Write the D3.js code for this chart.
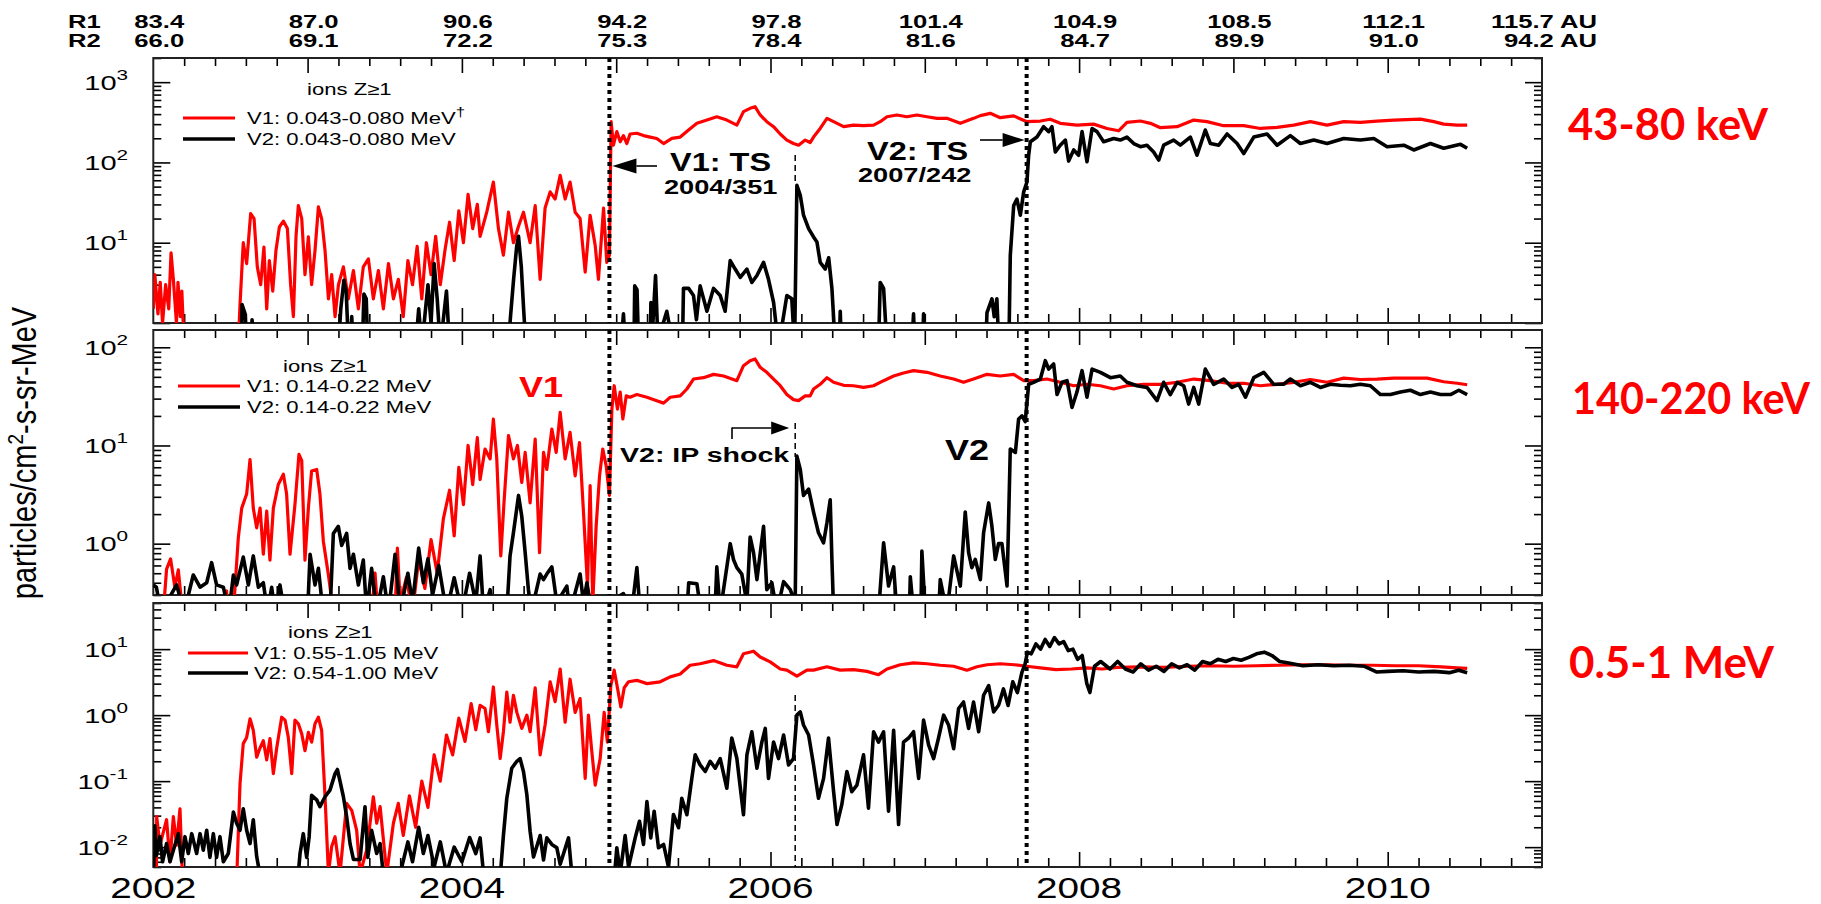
<!DOCTYPE html>
<html>
<head>
<meta charset="utf-8">
<script src="https://cdn.jsdelivr.net/npm/d3@7"></script>
<style>
  html, body { margin: 0; padding: 0; background: #fff; }
  svg { display: block; }
</style>
</head>
<body>
<svg id="chart" width="1821" height="904"></svg>
<script>
// ---------- data ----------
const yearLabels = [2002, 2004, 2006, 2008, 2010];
const r1Labels = ["83.4", "87.0", "90.6", "94.2", "97.8", "101.4", "104.9", "108.5", "112.1", "115.7 AU"];
const r2Labels = ["66.0", "69.1", "72.2", "75.3", "78.4", "81.6", "84.7", "89.9", "91.0", "94.2 AU"];
const v1TermShock = 2004.956;   // 2004/351
const v2TermShock = 2007.660;   // 2007/242
const v2IPShock = 2006.16;

// 43-80 keV channel, [year, intensity]
const v1Ch1 = [[2002.00,1.5],[2002.01,4],[2002.03,1.3],[2002.045,3.2],[2002.06,1.0],[2002.08,3.0],[2002.10,1.5],[2002.115,7.5],[2002.13,3.5],[2002.15,1.0],[2002.16,3.2],[2002.175,1.2],[2002.185,2.5],[2002.2,0.5],[2002.55,0.5],
[2002.562,1.7],[2002.583,10],[2002.605,5.5],[2002.631,23],[2002.653,20],[2002.674,5],[2002.696,3],[2002.717,8.8],[2002.735,1.5],[2002.752,6],[2002.774,2.5],[2002.795,8],[2002.817,15.7],[2002.843,18.6],[2002.869,15],[2002.89,3],[2002.908,1.2],[2002.925,12],[2002.94,29],[2002.962,20],[2002.983,4],[2003.005,11.8],[2003.026,3],[2003.048,8],[2003.07,28],[2003.091,20],[2003.113,8],[2003.135,2],[2003.156,4],[2003.178,1.2],[2003.2,3],[2003.232,5],[2003.264,2],[2003.297,4.5],[2003.329,1.5],[2003.361,5],[2003.394,6.3],[2003.426,2],[2003.459,4.5],[2003.491,1.5],[2003.524,5.5],[2003.556,2],[2003.588,3.5],
[2003.62,1.2],[2003.65,6],[2003.68,3],[2003.71,9],[2003.74,2],[2003.77,10],[2003.80,4],[2003.83,12],[2003.86,3],[2003.89,8],[2003.92,18],[2003.95,6],[2003.98,25],[2004.01,10],[2004.04,40],[2004.07,15],[2004.10,30],
[2004.118,12],[2004.161,24],[2004.204,57],[2004.237,15],[2004.269,7],[2004.302,24],[2004.334,10],[2004.367,16],[2004.399,24],[2004.442,10],[2004.475,29],[2004.507,3.5],[2004.539,27],[2004.572,43],[2004.604,35],[2004.637,69],[2004.669,35],[2004.701,57],[2004.734,24],[2004.766,20],[2004.799,4.3],[2004.831,22],[2004.864,9.2],[2004.885,3.5],[2004.918,27],[2004.939,5.7],[2004.956,7],
[2004.967,322],[2004.982,164],[2005.004,242],[2005.026,181],[2005.047,216],[2005.069,172],[2005.09,226],[2005.134,231],[2005.177,216],[2005.22,207],[2005.263,199],[2005.307,172],[2005.361,199],[2005.415,207],[2005.469,253],[2005.523,307],[2005.588,337],[2005.652,371],[2005.717,337],[2005.782,292],[2005.825,430],[2005.868,472],[2005.9,495],[2005.933,390],[2005.976,322],[2006.02,279],[2006.063,226],[2006.106,190],[2006.149,172],[2006.182,164],[2006.225,190],[2006.257,177],[2006.279,207],[2006.322,265],[2006.366,354],[2006.409,322],[2006.474,279],[2006.538,292],[2006.603,287],[2006.668,292],[2006.711,322],[2006.755,371],[2006.819,390],[2006.884,371],[2006.949,390],[2007.014,371],[2007.079,354],[2007.143,354],[2007.23,307],[2007.316,354],[2007.36,383],[2007.424,409],[2007.489,361],[2007.576,380],[2007.662,322],[2007.749,328],[2007.813,345],[2007.878,307],[2007.986,292],[2008.094,300],[2008.181,265],[2008.256,248],[2008.31,316],[2008.397,328],[2008.462,307],[2008.527,271],[2008.635,279],[2008.743,337],[2008.829,322],[2008.937,287],[2009.067,287],[2009.175,265],[2009.283,274],[2009.391,292],[2009.499,322],[2009.607,292],[2009.715,322],[2009.823,316],[2009.931,328],[2010.039,337],[2010.212,347],[2010.299,322],[2010.363,300],[2010.45,292],[2010.515,292]];

const v2Ch1 = [[2002.0,0.5],[2002.57,0.5],[2002.575,1.7],[2002.595,1.3],[2002.605,0.5],[2002.635,0.5],[2002.64,1.1],[2002.65,0.5],
[2003.20,0.5],[2003.215,1.5],[2003.235,3.4],[2003.25,2.5],[2003.265,0.5],[2003.28,0.5],[2003.286,1.2],[2003.295,0.5],[2003.355,0.5],[2003.365,2.3],[2003.38,2.0],[2003.39,0.5],
[2003.70,0.5],[2003.72,1.5],[2003.74,0.5],[2003.78,3],[2003.80,1],[2003.82,5.5],[2003.84,2],[2003.86,0.5],[2003.90,2.5],[2003.92,0.5],
[2004.30,0.5],[2004.315,1.2],[2004.335,3.5],[2004.355,9],[2004.367,12],[2004.385,5],[2004.40,1.5],[2004.415,0.5],
[2005.03,0.5],[2005.047,1.3],[2005.06,0.5],[2005.115,0.5],[2005.12,2.9],[2005.135,2.6],[2005.145,0.5],[2005.22,0.5],[2005.225,1.8],[2005.235,0.8],[2005.255,3.9],[2005.27,0.6],[2005.328,1.4],[2005.37,0.5],[2005.43,0.6],[2005.436,2.7],[2005.469,2.7],[2005.501,2.2],[2005.52,1.1],[2005.544,2.9],[2005.588,1.4],[2005.631,2.7],[2005.674,2.2],[2005.706,1.4],[2005.739,6],[2005.771,4.7],[2005.804,3.7],[2005.847,4.7],[2005.879,3.2],[2005.912,3.9],[2005.955,5.7],[2005.987,3.5],[2006.02,1.8],[2006.052,0.5],[2006.106,2.2],[2006.138,2.0],[2006.156,0.5],
[2006.171,52],[2006.193,39],[2006.214,22],[2006.247,15],[2006.279,11.8],[2006.301,10.2],[2006.322,5.7],[2006.355,4.7],[2006.377,6.5],[2006.398,2.7],[2006.42,0.5],[2006.445,0.5],[2006.452,1.4],[2006.46,0.5],
[2006.70,0.5],[2006.711,3.2],[2006.733,2.7],[2006.755,0.5],[2006.916,0.5],[2006.927,1.3],[2006.935,0.5],[2006.985,0.5],[2006.992,1.3],[2007.0,0.5],
[2007.395,0.5],[2007.403,1.35],[2007.435,2.0],[2007.45,1.2],[2007.467,2.0],[2007.48,0.5],[2007.545,0.5],
[2007.554,6.9],[2007.576,29],[2007.597,35],[2007.619,22],[2007.641,43],[2007.662,57],[2007.673,123],[2007.684,181],[2007.727,207],[2007.77,279],[2007.803,242],[2007.824,279],[2007.846,135],[2007.878,164],[2007.911,190],[2007.932,104],[2007.965,143],[2007.997,123],[2008.019,242],[2008.051,102],[2008.084,265],[2008.116,242],[2008.159,181],[2008.224,199],[2008.267,190],[2008.31,207],[2008.354,172],[2008.397,157],[2008.44,164],[2008.483,135],[2008.516,107],[2008.548,164],[2008.613,190],[2008.656,164],[2008.721,207],[2008.764,123],[2008.818,253],[2008.851,172],[2008.905,164],[2008.959,226],[2009.024,172],[2009.067,129],[2009.132,207],[2009.218,226],[2009.283,164],[2009.369,216],[2009.434,172],[2009.521,190],[2009.607,172],[2009.715,199],[2009.823,190],[2009.91,199],[2009.996,157],[2010.104,164],[2010.169,143],[2010.277,172],[2010.363,150],[2010.472,168],[2010.515,150]];

// 140-220 keV channel
const v1Ch2 = [[2002.0,0.2],[2002.065,0.2],[2002.086,0.55],[2002.112,0.7],[2002.14,0.36],[2002.162,0.54],[2002.19,0.2],[2002.47,0.2],[2002.475,0.33],[2002.48,0.2],[2002.519,0.2],[2002.551,1.15],[2002.573,2.3],[2002.605,3.2],[2002.627,7.2],[2002.648,2.3],[2002.67,1.45],[2002.692,2.3],[2002.713,0.78],[2002.735,2.15],[2002.756,0.68],[2002.778,2.3],[2002.81,4.0],[2002.843,5.1],[2002.864,3.2],[2002.886,0.78],[2002.918,2.5],[2002.944,8.1],[2002.962,7],[2002.983,0.68],[2003.005,2.3],[2003.026,5.5],[2003.059,5.7],[2003.08,3.2],[2003.102,1.06],[2003.135,0.48],[2003.167,0.2],[2003.415,0.2],[2003.437,0.5],[2003.455,0.2],[2003.567,0.2],[2003.582,0.9],[2003.6,0.25],
[2003.64,0.45],[2003.68,0.2],[2003.72,0.7],[2003.76,0.35],[2003.80,1.1],[2003.84,0.5],[2003.88,1.8],[2003.92,3.5],[2003.95,1.2],[2003.98,6],[2004.01,2.5],[2004.04,10],[2004.07,4],[2004.10,12],
[2004.118,4.5],[2004.15,9.2],[2004.183,7.3],[2004.204,18.6],[2004.226,7.3],[2004.252,0.75],[2004.274,2.8],[2004.302,12.6],[2004.334,7.3],[2004.36,10],[2004.388,4.2],[2004.41,8.5],[2004.442,2.6],[2004.475,11.6],[2004.503,0.81],[2004.529,8.5],[2004.55,5.7],[2004.583,14.7],[2004.611,8.5],[2004.637,21.7],[2004.669,7.3],[2004.701,13.6],[2004.734,4.9],[2004.762,10.7],[2004.788,2.1],[2004.814,0.37],[2004.831,3.9],[2004.848,0.25],[2004.87,1.5],[2004.892,4.9],[2004.913,9.2],[2004.935,6.2],[2004.956,3.1],
[2004.972,23.5],[2004.987,40.6],[2005.008,23.5],[2005.026,35],[2005.043,18.6],[2005.065,32],[2005.09,31],[2005.134,33],[2005.199,31],[2005.263,28.6],[2005.307,27],[2005.35,31],[2005.415,32],[2005.458,37.6],[2005.501,47.5],[2005.566,49],[2005.631,53],[2005.696,51],[2005.782,45.7],[2005.825,65],[2005.868,73],[2005.9,76],[2005.933,62.5],[2005.976,55.6],[2006.02,47.5],[2006.063,40.6],[2006.106,33],[2006.149,29.3],[2006.182,28.6],[2006.225,32],[2006.257,32],[2006.279,37.6],[2006.322,42],[2006.366,49],[2006.409,44],[2006.474,41],[2006.538,40.6],[2006.603,39],[2006.668,40.6],[2006.733,45.7],[2006.798,51],[2006.862,54.7],[2006.927,57.8],[2007.014,55.6],[2007.1,51],[2007.187,47.5],[2007.251,44],[2007.316,47.5],[2007.403,53],[2007.489,51],[2007.576,53],[2007.641,45.7],[2007.705,45.7],[2007.792,47.5],[2007.878,44],[2007.965,40.6],[2008.051,42],[2008.138,40.6],[2008.224,37.6],[2008.31,40.6],[2008.419,42],[2008.527,42],[2008.635,44],[2008.743,47.5],[2008.851,45.7],[2008.959,43],[2009.067,43],[2009.175,40.6],[2009.283,42],[2009.391,44],[2009.499,47],[2009.607,44],[2009.715,48.5],[2009.823,47],[2009.931,47.5],[2010.039,48.5],[2010.147,48.5],[2010.255,48.5],[2010.363,44.6],[2010.45,43],[2010.515,41.5]];

const v2Ch2 = [[2002.0,0.38],[2002.02,0.36],[2002.05,0.2],[2002.151,0.38],[2002.2,0.2],[2002.259,0.48],[2002.303,0.36],[2002.346,0.4],[2002.378,0.64],[2002.41,0.38],[2002.454,0.36],[2002.49,0.2],[2002.519,0.48],[2002.54,0.38],[2002.583,0.73],[2002.616,0.38],[2002.648,0.75],[2002.681,0.36],[2002.713,0.4],[2002.74,0.2],[2002.767,0.36],[2002.79,0.2],[2002.821,0.38],[2002.85,0.2],[2003.0,0.2],[2003.016,0.78],[2003.048,0.38],[2003.07,0.56],[2003.1,0.2],[2003.15,0.3],[2003.167,1.27],[2003.199,1.5],[2003.221,0.96],[2003.253,1.27],[2003.275,0.56],[2003.297,0.78],[2003.329,0.38],[2003.361,0.68],[2003.383,0.2],[2003.415,0.56],[2003.448,0.2],[2003.491,0.46],[2003.524,0.2],[2003.567,0.78],[2003.6,0.2],
[2003.65,0.5],[2003.68,0.25],[2003.72,0.9],[2003.75,0.4],[2003.78,0.7],[2003.81,0.3],[2003.85,0.6],[2003.9,0.2],[2003.95,0.45],[2004.0,0.2],[2004.05,0.5],[2004.09,0.25],
[2004.118,0.75],[2004.14,0.2],[2004.183,0.34],[2004.2,0.2],[2004.291,0.2],[2004.312,0.75],[2004.334,1.29],[2004.367,3.1],[2004.388,1.9],[2004.41,0.81],[2004.431,0.34],[2004.45,0.2],[2004.507,0.49],[2004.529,0.43],[2004.55,0.49],[2004.583,0.58],[2004.615,0.25],[2004.68,0.37],[2004.7,0.2],[2004.766,0.49],[2004.788,0.25],[2004.81,0.4],[2004.842,0.2],
[2005.047,0.31],[2005.1,0.2],[2005.134,0.57],[2005.155,0.2],[2005.458,0.2],[2005.47,0.4],[2005.523,0.39],[2005.55,0.2],[2005.64,0.2],[2005.652,0.58],[2005.674,0.2],[2005.739,1.0],[2005.76,0.69],[2005.782,0.57],[2005.814,0.49],[2005.847,0.25],[2005.868,1.17],[2005.89,0.81],[2005.912,0.43],[2005.955,1.5],[2005.976,0.34],[2006.009,0.4],[2006.041,0.2],[2006.085,0.41],[2006.128,0.34],[2006.16,0.25],
[2006.171,7.8],[2006.193,5.7],[2006.214,3.1],[2006.247,3.6],[2006.279,2.1],[2006.311,1.29],[2006.344,1.02],[2006.366,1.64],[2006.387,2.8],[2006.398,0.69],[2006.409,0.2],
[2006.70,0.2],[2006.733,1.02],[2006.765,0.37],[2006.798,0.58],[2006.819,0.2],[2006.9,0.2],[2006.906,0.46],[2006.927,0.2],[2006.975,0.2],[2006.981,0.84],[2007.003,0.2],[2007.09,0.2],[2007.1,0.43],[2007.143,0.2],[2007.187,0.75],[2007.23,0.37],[2007.262,2.1],[2007.284,0.81],[2007.305,0.57],[2007.327,0.69],[2007.36,0.43],[2007.381,1.29],[2007.414,2.6],[2007.435,1.5],[2007.457,0.69],[2007.478,1.0],[2007.5,1.0],[2007.533,0.37],
[2007.554,9.2],[2007.587,8.5],[2007.608,18.6],[2007.63,20],[2007.651,17.5],[2007.673,42],[2007.705,44],[2007.749,47.5],[2007.781,73],[2007.803,60],[2007.835,67.6],[2007.857,33],[2007.889,44],[2007.922,45.7],[2007.954,24.4],[2007.986,35],[2008.019,57.8],[2008.051,31],[2008.084,60],[2008.138,55.6],[2008.203,49],[2008.267,51],[2008.31,44],[2008.375,40.6],[2008.44,39],[2008.505,28.6],[2008.548,44],[2008.591,33],[2008.635,44],[2008.678,40.6],[2008.71,26.4],[2008.743,39],[2008.775,26.4],[2008.818,60],[2008.872,42],[2008.937,47.5],[2008.991,39],[2009.034,42],[2009.078,31],[2009.132,49],[2009.197,55.6],[2009.261,42],[2009.326,42],[2009.369,47.5],[2009.434,40.6],[2009.499,44],[2009.564,39],[2009.629,42],[2009.694,41],[2009.758,40.6],[2009.823,42],[2009.888,40.6],[2009.953,33],[2010.018,33],[2010.083,35],[2010.147,36.5],[2010.212,33],[2010.277,35],[2010.342,33],[2010.407,33],[2010.461,36.5],[2010.515,33]];

// 0.5-1 MeV channel
const v1Ch3 = [[2002.0,0.003],[2002.02,0.003],[2002.022,0.029],[2002.043,0.0107],[2002.086,0.026],[2002.108,0.006],[2002.13,0.029],[2002.151,0.0107],[2002.173,0.038],[2002.19,0.003],[2002.54,0.003],[2002.562,0.092],[2002.583,0.37],[2002.605,0.46],[2002.627,0.88],[2002.648,0.59],[2002.67,0.23],[2002.692,0.32],[2002.713,0.41],[2002.735,0.21],[2002.756,0.44],[2002.778,0.13],[2002.8,0.32],[2002.832,0.93],[2002.854,0.84],[2002.875,0.46],[2002.897,0.13],[2002.918,0.84],[2002.94,0.74],[2002.962,0.52],[2002.983,0.29],[2003.005,0.55],[2003.026,0.39],[2003.048,0.74],[2003.07,0.93],[2003.091,0.59],[2003.113,0.058],[2003.135,0.004],[2003.156,0.0102],[2003.178,0.0144],[2003.21,0.004],[2003.253,0.046],[2003.286,0.036],[2003.318,0.018],[2003.34,0.004],[2003.383,0.009],[2003.426,0.058],[2003.448,0.023],[2003.47,0.041],[2003.513,0.004],[2003.556,0.023],[2003.588,0.046],
[2003.62,0.015],[2003.66,0.06],[2003.70,0.02],[2003.74,0.1],[2003.78,0.04],[2003.82,0.25],[2003.86,0.1],[2003.9,0.5],[2003.94,0.25],[2003.98,0.9],[2004.02,0.4],[2004.06,1.5],[2004.09,0.6],
[2004.118,1.41],[2004.15,1.26],[2004.172,0.56],[2004.204,2.67],[2004.226,0.71],[2004.248,0.22],[2004.269,0.56],[2004.291,2.24],[2004.312,0.78],[2004.334,2.0],[2004.356,1.1],[2004.388,0.63],[2004.421,1.0],[2004.442,0.56],[2004.475,2.6],[2004.507,0.25],[2004.539,0.71],[2004.572,3.2],[2004.604,1.6],[2004.637,5.0],[2004.669,0.78],[2004.701,3.5],[2004.734,1.1],[2004.766,1.78],[2004.799,0.11],[2004.82,1.0],[2004.842,0.28],[2004.864,0.087],[2004.896,0.22],[2004.922,1.1],[2004.943,0.39],[2004.965,2.8],
[2004.987,4.8],[2005.008,2.6],[2005.03,1.33],[2005.052,2.6],[2005.08,3.2],[2005.134,3.37],[2005.199,3.0],[2005.285,3.2],[2005.35,3.8],[2005.415,4.2],[2005.479,5.7],[2005.544,6.0],[2005.631,6.7],[2005.717,5.7],[2005.782,5.4],[2005.825,8.5],[2005.89,9.3],[2005.933,7.6],[2005.998,6.4],[2006.063,5.0],[2006.106,4.8],[2006.171,3.9],[2006.236,4.8],[2006.279,4.8],[2006.366,5.4],[2006.452,4.8],[2006.538,4.9],[2006.625,4.6],[2006.7,4.1],[2006.755,5.0],[2006.841,5.8],[2006.927,6.2],[2007.014,6.0],[2007.1,5.7],[2007.187,5.5],[2007.273,4.8],[2007.338,5.4],[2007.403,5.8],[2007.489,6.0],
[2007.58,5.8],[2007.66,5.5],[2007.75,5.2],[2007.85,4.9],[2007.95,5.0],[2008.05,5.2],[2008.15,5.0],[2008.25,5.3],[2008.4,5.4],[2008.55,5.3],[2008.7,5.5],[2008.85,5.6],[2009.0,5.5],[2009.15,5.6],[2009.3,5.7],[2009.45,5.8],[2009.6,5.8],[2009.75,5.7],[2009.9,5.7],[2010.05,5.6],[2010.2,5.6],[2010.35,5.4],[2010.45,5.2],[2010.515,5.1]];

const v2Ch3 = [[2002.0,0.003],[2002.01,0.021],[2002.02,0.0075],[2002.043,0.0144],[2002.06,0.006],[2002.086,0.0113],[2002.108,0.006],[2002.13,0.009],[2002.162,0.016],[2002.184,0.006],[2002.205,0.0144],[2002.227,0.008],[2002.249,0.016],[2002.281,0.008],[2002.303,0.016],[2002.324,0.009],[2002.346,0.018],[2002.367,0.007],[2002.389,0.016],[2002.41,0.007],[2002.432,0.0144],[2002.454,0.006],[2002.486,0.008],[2002.519,0.034],[2002.54,0.023],[2002.562,0.018],[2002.583,0.038],[2002.605,0.018],[2002.627,0.0113],[2002.648,0.026],[2002.67,0.0072],[2002.69,0.004],[2002.94,0.004],[2002.951,0.008],[2002.972,0.016],[2002.994,0.007],[2003.01,0.0144],[2003.026,0.061],[2003.059,0.052],[2003.08,0.041],[2003.113,0.058],[2003.145,0.073],[2003.178,0.13],[2003.193,0.15],[2003.21,0.1],[2003.232,0.058],[2003.253,0.029],[2003.275,0.0113],[2003.297,0.0065],[2003.34,0.0065],[2003.372,0.041],[2003.39,0.007],[2003.415,0.018],[2003.448,0.008],[2003.47,0.0113],[2003.49,0.004],
[2003.6,0.004],[2003.65,0.012],[2003.68,0.006],[2003.72,0.02],[2003.75,0.008],[2003.78,0.015],[2003.82,0.005],[2003.86,0.012],[2003.9,0.004],[2003.95,0.01],[2004.0,0.006],[2004.05,0.014],[2004.09,0.008],
[2004.118,0.0138],[2004.14,0.004],[2004.25,0.004],[2004.269,0.015],[2004.291,0.055],[2004.323,0.157],[2004.356,0.2],[2004.377,0.22],[2004.399,0.14],[2004.421,0.062],[2004.442,0.0174],[2004.464,0.0071],[2004.507,0.015],[2004.529,0.0064],[2004.55,0.0138],[2004.583,0.011],[2004.615,0.0098],[2004.637,0.0055],[2004.691,0.0138],[2004.712,0.004],
[2004.99,0.004],[2005.004,0.0098],[2005.026,0.004],[2005.058,0.015],[2005.08,0.005],[2005.123,0.0138],[2005.151,0.0247],[2005.177,0.011],[2005.199,0.049],[2005.224,0.0138],[2005.246,0.035],[2005.274,0.0098],[2005.307,0.011],[2005.339,0.005],[2005.371,0.0312],[2005.404,0.0197],[2005.425,0.055],[2005.458,0.031],[2005.49,0.11],[2005.512,0.25],[2005.544,0.176],[2005.577,0.14],[2005.609,0.2],[2005.642,0.157],[2005.674,0.22],[2005.717,0.078],[2005.749,0.45],[2005.782,0.22],[2005.825,0.031],[2005.847,0.25],[2005.879,0.56],[2005.912,0.157],[2005.944,0.39],[2005.966,0.63],[2005.987,0.11],[2006.02,0.39],[2006.052,0.22],[2006.085,0.5],[2006.117,0.176],[2006.149,0.22],[2006.171,1.0],[2006.193,1.12],[2006.214,0.71],[2006.247,0.5],[2006.279,0.176],[2006.311,0.055],[2006.344,0.11],[2006.376,0.45],[2006.409,0.069],[2006.431,0.022],[2006.462,0.044],[2006.495,0.14],[2006.527,0.069],[2006.56,0.087],[2006.603,0.25],[2006.635,0.039],[2006.668,0.56],[2006.7,0.39],[2006.733,0.56],[2006.765,0.035],[2006.798,0.59],[2006.83,0.022],[2006.862,0.39],[2006.895,0.45],[2006.927,0.56],[2006.96,0.11],[2006.992,0.84],[2007.025,0.35],[2007.057,0.22],[2007.089,0.45],[2007.122,1.0],[2007.154,0.71],[2007.187,0.31],[2007.219,1.26],[2007.251,1.58],[2007.284,0.63],[2007.316,1.58],[2007.349,0.56],[2007.381,2.0],[2007.414,2.8],[2007.446,1.12],[2007.478,1.41],
[2007.51,2.5],[2007.54,1.4],[2007.57,3.2],[2007.6,2.2],[2007.63,4.5],[2007.65,6],[2007.665,9],[2007.69,8.5],[2007.72,12],[2007.75,10],[2007.78,14],[2007.81,11],[2007.84,15],[2007.87,12],[2007.9,13],[2007.93,9.5],[2007.96,10],[2007.99,7],[2008.02,8],[2008.05,3],[2008.07,2.2],[2008.1,5.5],[2008.14,6.5],[2008.2,5],[2008.25,6.5],[2008.3,5],[2008.35,4.5],[2008.4,6],[2008.45,4.8],[2008.5,5.5],[2008.55,4.6],[2008.6,6],[2008.65,5.2],[2008.7,5.8],[2008.75,4.8],[2008.8,6.5],[2008.85,6],[2008.9,7],[2008.95,6.5],[2009.0,7.2],[2009.05,6.8],[2009.1,7.5],[2009.15,8.5],[2009.2,9],[2009.25,8],[2009.3,6.5],[2009.35,6.2],[2009.45,5.6],[2009.55,5.8],[2009.65,5.6],[2009.75,5.7],[2009.85,5.5],[2009.93,4.5],[2010.0,4.6],[2010.1,4.7],[2010.2,4.5],[2010.3,4.6],[2010.4,4.4],[2010.46,4.8],[2010.515,4.4]];

const channelTitles = ["43-80 keV", "140-220 keV", "0.5-1 MeV"];
const v1Legend = ["V1: 0.043-0.080 MeV", "V1: 0.14-0.22 MeV", "V1: 0.55-1.05 MeV"];
const v2Legend = ["V2: 0.043-0.080 MeV", "V2: 0.14-0.22 MeV", "V2: 0.54-1.00 MeV"];
const decadeLabels = [[1, 2, 3], [0, 1, 2], [-2, -1, 0, 1]];

// ---------- layout ----------
const svg = d3.select("#chart");
const plotLeft = 153.3, plotRight = 1542;
const SX = 1.3;   // horizontal stretch of the plot lettering
const FONT = "'Liberation Sans', Arial, Helvetica, sans-serif";

const x = d3.scaleLinear().domain([2002, 2011]).range([plotLeft, plotRight]);

const panels = [
  { top: 58,  bottom: 323, domain: [1, 2000],    v1: v1Ch1, v2: v2Ch1,
    legend: { ionsX: 307, ionsY: 95,  lx0: 183, lx1: 235, y1: 118, y2: 139, tx: 247 },
    title: { x: 1568, y: 140, len: 200 } },
  { top: 330, bottom: 595, domain: [0.3, 150],   v1: v1Ch2, v2: v2Ch2,
    legend: { ionsX: 283, ionsY: 372, lx0: 178, lx1: 240, y1: 386, y2: 407, tx: 247 },
    title: { x: 1572, y: 414, len: 238 } },
  { top: 603, bottom: 867, domain: [0.005, 50],  v1: v1Ch3, v2: v2Ch3,
    legend: { ionsX: 288, ionsY: 638, lx0: 188, lx1: 248, y1: 653, y2: 673, tx: 254 },
    title: { x: 1569, y: 678, len: 205 } }
];

function stretchedText(parent, px, py, str, opts) {
  const o = Object.assign({ size: 17, weight: "normal", anchor: "start", fill: "#000", sx: SX }, opts || {});
  const t = parent.append("text")
    .attr("transform", `translate(${px},${py}) scale(${o.sx},1)`)
    .attr("font-family", FONT)
    .attr("font-size", o.size)
    .attr("font-weight", o.weight)
    .attr("text-anchor", o.anchor)
    .attr("fill", o.fill);
  if (str !== null) t.text(str);
  return t;
}

const defs = svg.append("defs");

panels.forEach((p, i) => {
  const y = d3.scaleLog().domain(p.domain).range([p.bottom, p.top]);
  const g = svg.append("g");

  defs.append("clipPath").attr("id", "clip" + i)
    .append("rect").attr("x", plotLeft).attr("y", p.top)
    .attr("width", plotRight - plotLeft).attr("height", p.bottom - p.top);

  // x ticks (inward, both edges)
  const minorX = d3.range(0, 45).map(k => 2002 + k * 0.2).filter(v => Math.abs(v - Math.round(v)) > 1e-6);
  const topMajor = d3.range(2003, 2011);
  const botMajor = d3.range(2004, 2011, 2);
  const botMinor = minorX.concat(d3.range(2003, 2011, 2));

  const addAxis = (axis, tx, ty) => {
    const a = g.append("g").attr("transform", `translate(${tx},${ty})`).call(axis);
    a.select(".domain").remove();
    a.selectAll("line").attr("stroke", "#000").attr("stroke-width", 1.6);
    a.selectAll("text").remove();
  };
  addAxis(d3.axisTop(x).tickValues(minorX).tickSize(-8).tickFormat(""), 0, p.top);
  addAxis(d3.axisTop(x).tickValues(topMajor).tickSize(-15).tickFormat(""), 0, p.top);
  addAxis(d3.axisBottom(x).tickValues(botMinor).tickSize(-9).tickFormat(""), 0, p.bottom);
  addAxis(d3.axisBottom(x).tickValues(botMajor).tickSize(-15).tickFormat(""), 0, p.bottom);

  // y ticks (log, inward, both edges)
  const [lo, hi] = p.domain;
  const majors = [], minors = [];
  for (let e = Math.floor(Math.log10(lo)); e <= Math.ceil(Math.log10(hi)); e++) {
    for (let m = 1; m <= 9; m++) {
      const v = m * Math.pow(10, e);
      if (v < lo * 0.999 || v > hi * 1.001) continue;
      (m === 1 ? majors : minors).push(v);
    }
  }
  addAxis(d3.axisLeft(y).tickValues(majors).tickSize(-17).tickFormat(""), plotLeft, 0);
  addAxis(d3.axisLeft(y).tickValues(minors).tickSize(-8).tickFormat(""), plotLeft, 0);
  addAxis(d3.axisRight(y).tickValues(majors).tickSize(-17).tickFormat(""), plotRight, 0);
  addAxis(d3.axisRight(y).tickValues(minors).tickSize(-8).tickFormat(""), plotRight, 0);

  // frame
  g.append("rect").attr("x", plotLeft).attr("y", p.top)
    .attr("width", plotRight - plotLeft).attr("height", p.bottom - p.top)
    .attr("fill", "none").attr("stroke", "#222").attr("stroke-width", 2);

  // decade labels 10^n
  decadeLabels[i].forEach(e => {
    const yy = y(Math.pow(10, e));
    const t = stretchedText(g, 128, yy + 7.5, null, { size: 21, anchor: "end", sx: 1.38 });
    t.append("tspan").text("10");
    t.append("tspan").attr("dy", -10).attr("font-size", 15).text(String(e));
  });

  // series
  const line = d3.line().x(d => x(d[0])).y(d => y(d[1]));
  const series = g.append("g").attr("clip-path", `url(#clip${i})`);
  series.append("path").datum(p.v1).attr("d", line)
    .attr("fill", "none").attr("stroke", "#ff0000").attr("stroke-width", 3.2)
    .attr("stroke-linejoin", "round");
  series.append("path").datum(p.v2).attr("d", line)
    .attr("fill", "none").attr("stroke", "#000").attr("stroke-width", 3.6)
    .attr("stroke-linejoin", "round");

  // legend
  const L = p.legend;
  stretchedText(g, L.ionsX, L.ionsY, "ions Z\u22651", { size: 17 });
  g.append("line").attr("x1", L.lx0).attr("x2", L.lx1).attr("y1", L.y1).attr("y2", L.y1)
    .attr("stroke", "#ff0000").attr("stroke-width", 3);
  g.append("line").attr("x1", L.lx0).attr("x2", L.lx1).attr("y1", L.y2).attr("y2", L.y2)
    .attr("stroke", "#000").attr("stroke-width", 3.5);
  const t1 = stretchedText(g, L.tx, L.y1 + 6, null, { size: 17 });
  t1.append("tspan").text(v1Legend[i]);
  if (i === 0) t1.append("tspan").attr("dy", -8).attr("font-size", 13).text("\u2020");
  stretchedText(g, L.tx, L.y2 + 6, v2Legend[i], { size: 17 });

  // channel title on the right
  svg.append("text").attr("x", p.title.x).attr("y", p.title.y)
    .attr("font-family", "Lato, 'Open Sans', sans-serif").attr("font-weight", 700)
    .attr("font-size", 43).attr("fill", "#ff0000")
    .attr("textLength", p.title.len).attr("lengthAdjust", "spacingAndGlyphs")
    .text(channelTitles[i]);
});

// termination shock markers (through all panels)
[v1TermShock, v2TermShock].forEach(t => {
  panels.forEach(p => {
    svg.append("line").attr("x1", x(t)).attr("x2", x(t)).attr("y1", p.top).attr("y2", p.bottom)
      .attr("stroke", "#000").attr("stroke-width", 4).attr("stroke-dasharray", "4,4");
  });
});

// IP shock marker segments
const ipX = x(v2IPShock);
[[155, 184], [423, 457], [695, 867]].forEach(s => {
  svg.append("line").attr("x1", ipX).attr("x2", ipX).attr("y1", s[0]).attr("y2", s[1])
    .attr("stroke", "#000").attr("stroke-width", 1.5).attr("stroke-dasharray", "6,4");
});

// arrows
function arrow(x0, x1, yy, head, half) {
  const dir = Math.sign(x1 - x0);
  svg.append("line").attr("x1", x0).attr("x2", x1 - dir * head).attr("y1", yy).attr("y2", yy)
    .attr("stroke", "#000").attr("stroke-width", 1.6);
  svg.append("path")
    .attr("d", `M${x1},${yy} L${x1 - dir * head},${yy - half} L${x1 - dir * head},${yy + half} Z`)
    .attr("fill", "#000");
}
arrow(657, x(v1TermShock) + 3, 166, 24, 7.5);
arrow(980, x(v2TermShock) - 2, 140, 22, 7);
svg.append("line").attr("x1", 732).attr("x2", 732).attr("y1", 427.5).attr("y2", 439)
  .attr("stroke", "#000").attr("stroke-width", 1.6);
arrow(732, ipX - 6, 428, 18, 6.5);

// annotations
stretchedText(svg, 670, 171, "V1: TS", { size: 25, weight: "bold" });
stretchedText(svg, 664, 194, "2004/351", { size: 20, weight: "bold", sx: 1.36 });
stretchedText(svg, 867, 160, "V2: TS", { size: 25, weight: "bold" });
stretchedText(svg, 858, 182, "2007/242", { size: 20, weight: "bold", sx: 1.36 });
stretchedText(svg, 620, 462, "V2: IP shock", { size: 21, weight: "bold", sx: 1.36 });
stretchedText(svg, 519, 397, "V1", { size: 30, weight: "bold", fill: "#ff0000", sx: 1.2 });
stretchedText(svg, 945, 460, "V2", { size: 30, weight: "bold", sx: 1.2 });

// year labels along the bottom
yearLabels.forEach(yr => {
  stretchedText(svg, x(yr), 898, String(yr), { size: 30, anchor: "middle", sx: 1.29 });
});

// heliocentric distance rows along the top
stretchedText(svg, 68, 28, "R1", { size: 19, weight: "bold", sx: 1.35 });
stretchedText(svg, 68, 47, "R2", { size: 19, weight: "bold", sx: 1.35 });
r1Labels.forEach((lab, k) => {
  const last = k === r1Labels.length - 1;
  const px = last ? x(2011) + 55 : x(2002 + k) + 6;
  stretchedText(svg, px, 28, lab, { size: 19, weight: "bold", anchor: last ? "end" : "middle", sx: 1.35 });
  stretchedText(svg, px, 47, r2Labels[k], { size: 19, weight: "bold", anchor: last ? "end" : "middle", sx: 1.35 });
});

// y-axis title
const yt = svg.append("text")
  .attr("transform", `translate(36,453) scale(1.2,1) rotate(-90)`)
  .attr("font-family", FONT).attr("font-size", 29).attr("text-anchor", "middle").attr("fill", "#000");
yt.append("tspan").text("particles/cm");
yt.append("tspan").attr("dy", -11).attr("font-size", 19).text("2");
yt.append("tspan").attr("dy", 11).text("-s-sr-MeV");
</script>
</body>
</html>
